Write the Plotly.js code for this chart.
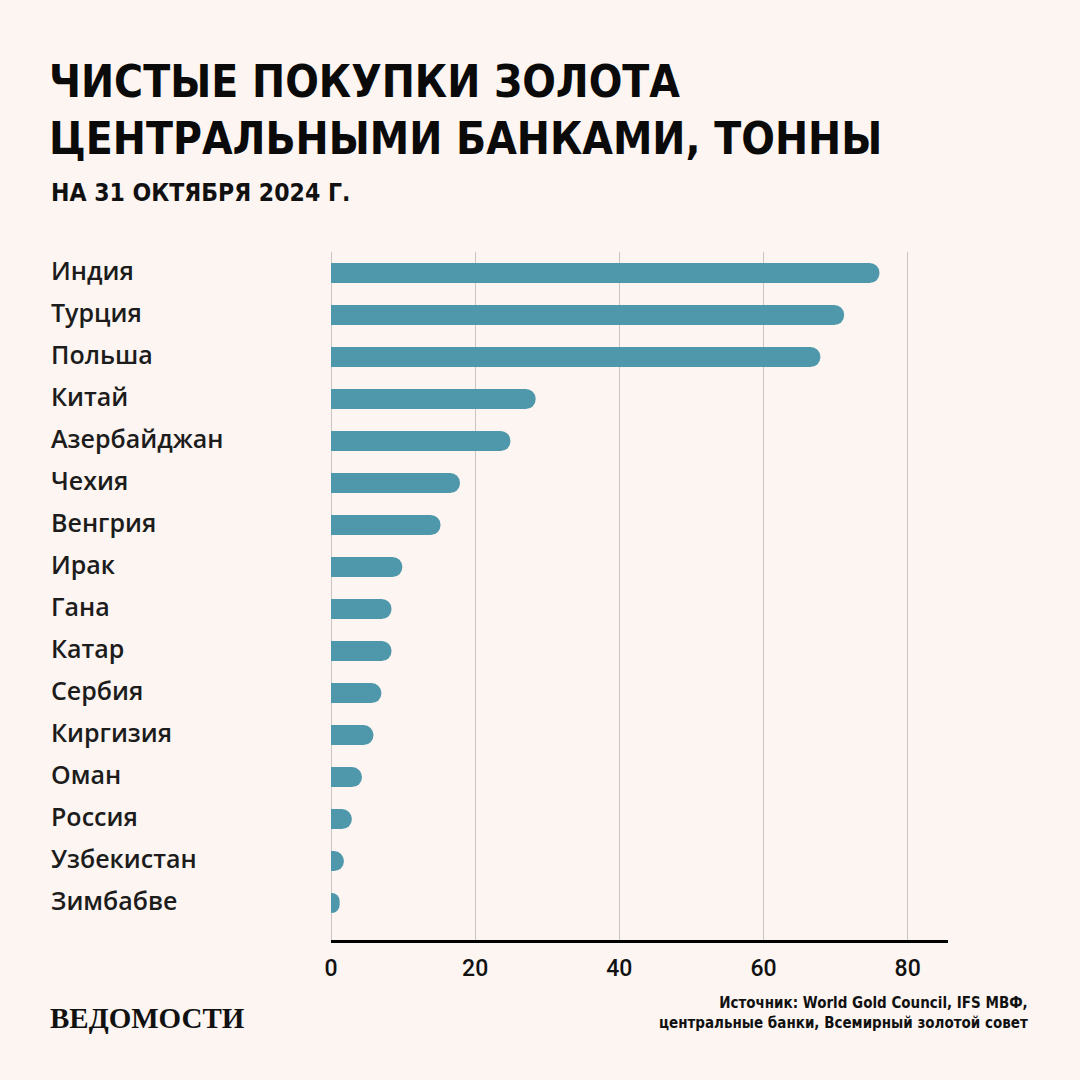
<!DOCTYPE html>
<html>
<head>
<meta charset="utf-8">
<script src="https://cdn.plot.ly/plotly-3.0.1.min.js"></script>
<style>
html,body{margin:0;padding:0;background:#fcf5f1;}
#chart{width:1080px;height:1080px;}
</style>
</head>
<body>
<div id="chart"></div>
<script>
// Data
const countries = ["Индия","Турция","Польша","Китай","Азербайджан","Чехия","Венгрия","Ирак","Гана","Катар","Сербия","Киргизия","Оман","Россия","Узбекистан","Зимбабве"];
const tonnes = [76.1, 71.2, 67.9, 28.4, 24.9, 17.9, 15.2, 9.9, 8.4, 8.4, 7.0, 5.9, 4.3, 2.9, 1.8, 1.2];
const xTickValues = [0, 20, 40, 60, 80];
const xTickLabels = ["0", "20", "40", "60", "80"];
const titleText = "ЧИСТЫЕ ПОКУПКИ ЗОЛОТА<br>ЦЕНТРАЛЬНЫМИ БАНКАМИ, ТОННЫ";
const subtitleText = "НА 31 ОКТЯБРЯ 2024 Г.";
const sourceText = "Источник: World Gold Council, IFS МВФ,<br>центральные банки, Всемирный золотой совет";
const logoText = "ВЕДОМОСТИ";

// Geometry helpers (pixel -> paper)
const W = 1080, H = 1080;
const L = 331, R = 948, T = 252, B = 940;
const px2x = p => (p - L) / (R - L);
const px2y = p => (B - p) / (B - T);

const condensed = '"Liberation Sans Narrow", "DejaVu Sans Condensed", "Roboto", sans-serif';
const labelFont = '"Open Sans", "Noto Sans", sans-serif';

const trace = {
  type: 'bar',
  orientation: 'h',
  x: tonnes,
  y: countries,
  width: 0.48,
  marker: {color: '#4f98ab', cornerradius: 10, line: {width: 0}},
  hoverinfo: 'x+y'
};

const annotations = countries.map(c => ({
  xref: 'paper', yref: 'y',
  x: px2x(49), y: c,
  xanchor: 'left', yanchor: 'middle',
  yshift: 3,
  text: c, showarrow: false,
  font: {family: labelFont, size: 25, color: '#1c1c1c', weight: 600}
}));

annotations.push({
  xref: 'paper', yref: 'paper',
  x: px2x(47), y: px2y(110),
  xanchor: 'left', yanchor: 'middle', align: 'left',
  text: titleText, showarrow: false,
  font: {family: condensed, size: 44, color: '#0a0a0a', weight: 700}
});
annotations.push({
  xref: 'paper', yref: 'paper',
  x: px2x(49), y: px2y(192),
  xanchor: 'left', yanchor: 'middle',
  text: subtitleText, showarrow: false,
  font: {family: condensed, size: 24.5, color: '#111', weight: 700}
});
annotations.push({
  xref: 'paper', yref: 'paper',
  x: px2x(1030), y: px2y(1013),
  xanchor: 'right', yanchor: 'middle', align: 'right',
  text: sourceText, showarrow: false,
  font: {family: condensed, size: 15, color: '#111', weight: 700}
});
annotations.push({
  xref: 'paper', yref: 'paper',
  x: px2x(48), y: px2y(1018),
  xanchor: 'left', yanchor: 'middle',
  text: logoText, showarrow: false,
  font: {family: '"Liberation Serif", "DejaVu Serif", serif', size: 29, color: '#111', weight: 700}
});

const layout = {
  width: W, height: H,
  paper_bgcolor: '#fcf5f1',
  plot_bgcolor: '#fcf5f1',
  margin: {l: L, r: W - R, t: T, b: H - B, pad: 0},
  showlegend: false,
  xaxis: {
    range: [0, 85.6],
    tickmode: 'array',
    tickvals: xTickValues,
    ticktext: xTickLabels,
    showgrid: true, gridcolor: '#c8c4c1', gridwidth: 1,
    zeroline: true, zerolinecolor: '#c8c4c1', zerolinewidth: 1,
    showline: true, linecolor: '#000', linewidth: 3,
    ticks: '', ticklabelstandoff: 5,
    tickfont: {family: '"Roboto", sans-serif', size: 23, color: '#111', weight: 500},
    fixedrange: true
  },
  yaxis: {
    type: 'category',
    range: [15.88, -0.5],
    showticklabels: false,
    showgrid: false, zeroline: false, showline: false,
    fixedrange: true
  },
  annotations: annotations
};

Plotly.newPlot('chart', [trace], layout, {displayModeBar: false, staticPlot: true});
</script>
</body>
</html>
